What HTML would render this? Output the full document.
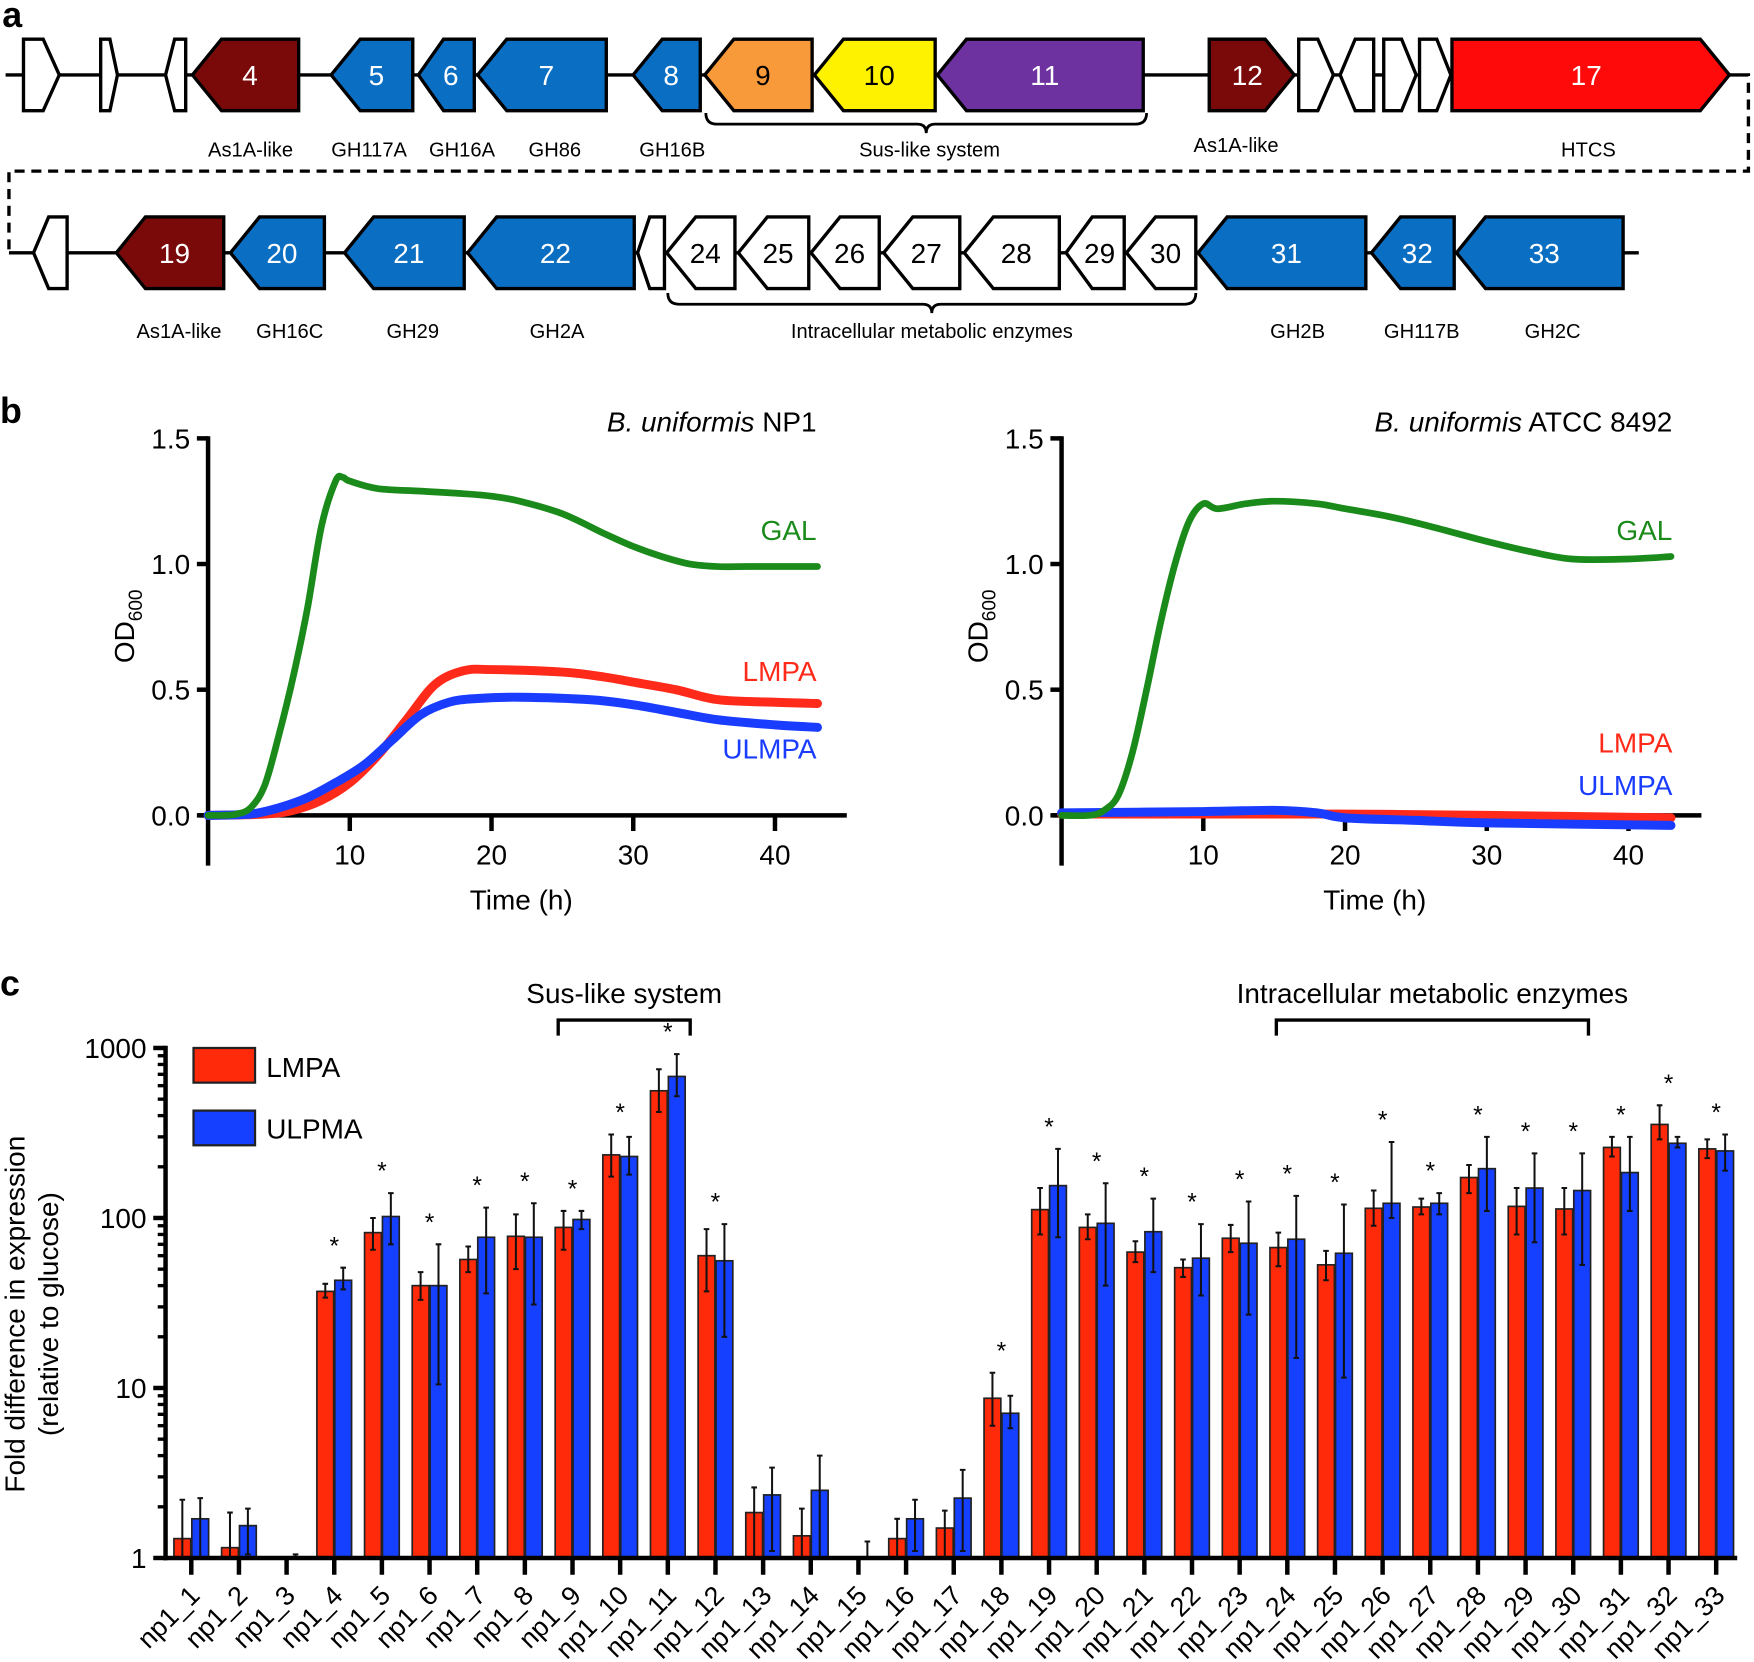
<!DOCTYPE html>
<html><head><meta charset="utf-8"><style>
html,body{margin:0;padding:0;background:#fff}
svg{display:block;font-family:"Liberation Sans",Arial,sans-serif}
</style></head><body>
<svg id="fig" width="1754" height="1662" viewBox="0 0 1568 1486" preserveAspectRatio="none" xmlns="http://www.w3.org/2000/svg">
<text x="2" y="24" font-size="32" font-weight="bold">a</text>
<text x="0" y="378" font-size="32" font-weight="bold">b</text>
<text x="0" y="890" font-size="32" font-weight="bold">c</text>
<g id="pa"></g>
<g id="pb"></g>
<g id="pc"></g>
</svg>
<script>
const NS='http://www.w3.org/2000/svg';
function mk(parent,tag,attrs,txt){const e=document.createElementNS(NS,tag);for(const k in attrs)e.setAttribute(k,attrs[k]);if(txt!==undefined)e.textContent=txt;parent.appendChild(e);return e;}

/* ---------- Panel a: gene map ---------- */
const row1Genes=[[21,53,'r','#fff',''],[90,105,'r','#fff',''],[148,166,'l','#fff',''],[172,267,'l','#7a0a0a','4'],[296,369,'l','#0a6fc2','5'],[374,424,'l','#0a6fc2','6'],[427,542,'l','#0a6fc2','7'],[566,626,'l','#0a6fc2','8'],[630,726,'l','#f99a3a','9'],[728,836,'l','#fff200','10'],[838,1022,'l','#6e31a0','11'],[1081,1157,'r','#7a0a0a','12'],[1161,1192,'r','#fff',''],[1198,1228,'l','#fff',''],[1237,1266,'r','#fff',''],[1269,1297,'r','#fff',''],[1298,1546,'r','#ff0a0a','17']];
const row2Genes=[[30,60,'l','#fff',''],[104,200,'l','#7a0a0a','19'],[206,290,'l','#0a6fc2','20'],[308,415,'l','#0a6fc2','21'],[418,567,'l','#0a6fc2','22'],[570,594,'l','#fff',''],[596,657,'l','#fff','24'],[660,723,'l','#fff','25'],[725,786,'l','#fff','26'],[790,858,'l','#fff','27'],[862,947,'l','#fff','28'],[953,1005,'l','#fff','29'],[1007,1069,'l','#fff','30'],[1071,1221,'l','#0a6fc2','31'],[1226,1300,'l','#0a6fc2','32'],[1302,1451,'l','#0a6fc2','33']];
const row1Labels=[['As1A-like',224,134],['GH117A',330,134],['GH16A',413,134],['GH86',496,134],['GH16B',601,134],['Sus-like system',831,134],['As1A-like',1105,130],['HTCS',1420,134]];
const row2Labels=[['As1A-like',160,296],['GH16C',259,296],['GH29',369,296],['GH2A',498,296],['Intracellular metabolic enzymes',833,296],['GH2B',1160,296],['GH117B',1271,296],['GH2C',1388,296]];
const pa=document.getElementById('pa');
function backbone(x1,x2,y){const l=mk(pa,'line',{x1:x1,x2:x2,y1:y,y2:y,stroke:'#000','stroke-width':3});

}
backbone(5,1555,67);backbone(8,1465,226);
const dash=mk(pa,'path',{d:'M1555 67 H1563 V153 H8 V226',fill:'none',stroke:'#000','stroke-width':3,'stroke-dasharray':'9 6'});


function genes(list,cy){list.forEach(g=>{const [x1,x2,dir,col,lab]=g;const t=cy-32,b=cy+32;const d=Math.min(26,(x2-x1)*0.45);
let pts=dir==='l'?`${x1},${cy} ${x1+d},${t} ${x2},${t} ${x2},${b} ${x1+d},${b}`:`${x1},${t} ${x2-d},${t} ${x2},${cy} ${x2-d},${b} ${x1},${b}`;
const p=mk(pa,'polygon',{points:pts,fill:col,stroke:'#000','stroke-width':3,'stroke-linejoin':'miter'});


if(lab){const cx=(x1+x2)/2+(dir==='l'?4:-4);const tc=(col==='#fff'||col==='#fff200'||col==='#f99a3a')?'#000':'#fff';
const tx=mk(pa,'text',{x:cx,y:cy+9,'font-size':25,'text-anchor':'middle',fill:tc},lab);

}});}
genes(row1Genes,67);genes(row2Genes,226);
function labels(list){list.forEach(l=>{const t=mk(pa,'text',{x:l[1],y:l[2]+6,'font-size':18,'text-anchor':'middle'},l[0]);

});}
labels(row1Labels);labels(row2Labels);
function brace(x1,x2,y){const m=(x1+x2)/2;const b=mk(pa,'path',{d:`M${x1} ${y} Q${x1} ${y+10} ${x1+10} ${y+10} H${m-8} Q${m} ${y+10} ${m} ${y+18} Q${m} ${y+10} ${m+8} ${y+10} H${x2-10} Q${x2} ${y+10} ${x2} ${y}`,fill:'none',stroke:'#000','stroke-width':2.5});

}
brace(631,1025,101);brace(597,1069,262);

/* ---------- Panel b: growth curves ---------- */
const np1GalT=[0,1,2,3,4,5,6,7,8,9,9.5,10,12,15,18,20,22,25,28,30,32,34,36,38,40,43];
const np1GalV=[0,0,0.005,0.03,0.12,0.32,0.55,0.82,1.15,1.33,1.345,1.33,1.3,1.29,1.28,1.27,1.25,1.2,1.12,1.07,1.03,1.0,0.99,0.99,0.99,0.99];
const np1LmpaT=[0,4,6,8,10,12,14,16,18,20,25,28,30,33,36,40,43];
const np1LmpaV=[0,0.005,0.02,0.06,0.13,0.24,0.38,0.52,0.575,0.58,0.57,0.55,0.53,0.5,0.46,0.45,0.445];
const np1UlmpaT=[0,3,5,7,9,11,13,15,17,19,22,27,30,33,36,40,43];
const np1UlmpaV=[0,0.005,0.03,0.07,0.13,0.2,0.3,0.4,0.45,0.465,0.47,0.46,0.44,0.41,0.38,0.36,0.35];
const atccGalT=[0,2,3,4,5,6,7,8,9,10,11,13,15,18,20,23,26,30,33,36,40,43];
const atccGalV=[0,0,0.02,0.08,0.25,0.5,0.77,1.0,1.17,1.24,1.22,1.24,1.25,1.24,1.22,1.19,1.15,1.09,1.05,1.02,1.02,1.03];
const atccLmpaT=[0,10,20,30,43];
const atccLmpaV=[0.005,0.005,0.005,0.0,-0.01];
const atccUlmpaT=[0,10,15,18,20,25,30,43];
const atccUlmpaV=[0.01,0.015,0.02,0.01,-0.01,-0.02,-0.03,-0.04];
const odTicks=['0.0','0.5','1.0','1.5'];
const timeTicks=['10','20','30','40'];
const pb=document.getElementById('pb');
function smoothPath(P){let d=`M${P[0][0]} ${P[0][1]}`;for(let i=0;i<P.length-1;i++){const p0=P[i-1]||P[i],p1=P[i],p2=P[i+1],p3=P[i+2]||p2;
const c1=[p1[0]+(p2[0]-p0[0])/6,p1[1]+(p2[1]-p0[1])/6],c2=[p2[0]-(p3[0]-p1[0])/6,p2[1]-(p3[1]-p1[1])/6];
d+=` C${c1[0]} ${c1[1]} ${c2[0]} ${c2[1]} ${p2[0]} ${p2[1]}`;}return d;}
function growth(x0,xEnd,title,series,lbls){
  const X=t=>x0+t*12.67, Y=v=>729-v*224.7;
  const ax=mk(pb,'line',{x1:x0,x2:x0,y1:390,y2:774,stroke:'#000','stroke-width':4});
  
  
  const xa=mk(pb,'line',{x1:x0-8,x2:xEnd,y1:729,y2:729,stroke:'#000','stroke-width':4});
  
  
  odTicks.forEach(s=>{const v=+s;mk(pb,'line',{x1:x0-10,x2:x0,y1:Y(v),y2:Y(v),stroke:'#000','stroke-width':4});
    const t=mk(pb,'text',{x:x0-16,y:Y(v)+9,'font-size':25,'text-anchor':'end'},s);
    
    });
  timeTicks.forEach(s=>{const v=+s;mk(pb,'line',{x1:X(v),x2:X(v),y1:729,y2:743,stroke:'#000','stroke-width':4});
    const t=mk(pb,'text',{x:X(v),y:773,'font-size':25,'text-anchor':'middle'},s);
    
    });
  const xt=mk(pb,'text',{x:x0+280,y:813,'font-size':25,'text-anchor':'middle'},'Time (h)');
  
  
  const yt=mk(pb,'text',{x:0,y:0,'font-size':25,'text-anchor':'middle',transform:`translate(${x0-66},560) rotate(-90)`});
  
  
  mk(yt,'tspan',{},'OD');mk(yt,'tspan',{'font-size':17,dy:7},'600');
  const tt=mk(pb,'text',{x:title[1],y:386,'font-size':25,'text-anchor':'end'});
  
  
  mk(tt,'tspan',{'font-style':'italic'},'B. uniformis');mk(tt,'tspan',{},' '+title[0]);
  series.forEach(s=>{const [T,V,col,dots,name]=s;
    const P=T.map((t,i)=>[X(t),Y(V[i])]);
    const pl=mk(pb,'path',{d:smoothPath(P),fill:'none',stroke:col,'stroke-width':dots?6:8,'stroke-linejoin':'round','stroke-linecap':'round'});
    
    });
  lbls.forEach(l=>{const t=mk(pb,'text',{x:title[1],y:l[1],'font-size':25,'text-anchor':'end',fill:l[2]},l[0]);
    
    });
}
growth(186,757,['NP1',730],[[np1LmpaT,np1LmpaV,'#ff2a1a',false,'lmpa'],[np1UlmpaT,np1UlmpaV,'#1a3cff',false,'ulmpa'],[np1GalT,np1GalV,'#1a8a1a',true,'gal']],[['GAL',483,'#1a8a1a'],['LMPA',609,'#ff2a1a'],['ULMPA',678,'#1a3cff']]);
growth(949,1521,['ATCC 8492',1495],[[atccLmpaT,atccLmpaV,'#ff2a1a',false,'lmpa'],[atccUlmpaT,atccUlmpaV,'#1a3cff',false,'ulmpa'],[atccGalT,atccGalV,'#1a8a1a',true,'gal']],[['GAL',483,'#1a8a1a'],['LMPA',673,'#ff2a1a'],['ULMPA',711,'#1a3cff']]);

/* ---------- Panel c: expression bars ---------- */
const genesC=['np1_1','np1_2','np1_3','np1_4','np1_5','np1_6','np1_7','np1_8','np1_9','np1_10','np1_11','np1_12','np1_13','np1_14','np1_15','np1_16','np1_17','np1_18','np1_19','np1_20','np1_21','np1_22','np1_23','np1_24','np1_25','np1_26','np1_27','np1_28','np1_29','np1_30','np1_31','np1_32','np1_33'];
const lmpaVals=[1.3,1.15,null,37,82,40,57,78,88,235,560,60,1.85,1.35,null,1.3,1.5,8.7,112,88,63,51,76,67,53,114,116,173,117,113,260,355,255];
const lmpaHi=[2.2,1.85,null,41,100,48,68,105,110,310,750,86,2.6,1.95,null,1.7,1.9,12.3,150,105,73,57,91,82,64,145,130,205,150,150,300,460,290];
const lmpaLo=[1.0,1.0,null,34,65,33,48,50,65,175,420,37,1.0,1.0,null,1.0,1.0,6.0,80,75,55,45,63,52,43,90,105,140,80,80,230,290,225];
const ulpmaVals=[1.7,1.55,null,43,102,40,77,77,98,230,680,56,2.35,2.5,null,1.7,2.25,7.1,155,93,83,58,71,75,62,122,122,195,150,145,185,275,248];
const ulpmaHi=[2.25,1.95,1.05,51,140,70,115,122,110,300,920,92,3.4,4.0,1.25,2.2,3.3,9.0,255,160,130,92,125,135,120,280,140,300,240,240,300,300,310];
const ulpmaLo=[1.0,1.05,1.0,38,70,10.5,36,31,86,180,520,20,1.1,1.0,1.0,1.1,1.1,5.8,77,40,48,35,27,15,11.5,100,105,110,72,53,110,260,190];
const significant=[0,0,0,1,1,1,1,1,1,1,1,1,0,0,0,0,0,1,1,1,1,1,1,1,1,1,1,1,1,1,1,1,1];
const decadeTicks=['1','10','100','1000'];
const pc=document.getElementById('pc');
const X0=171, DX=42.6, AXB=1393, PERDEC=152;
const xc=i=>X0+i*DX;
const yv=v=>AXB-Math.log10(v)*PERDEC;
genesC.forEach((g,i)=>{
  [[lmpaVals,lmpaHi,lmpaLo,'#ff2a0a',-15.5,'lmpa'],[ulpmaVals,ulpmaHi,ulpmaLo,'#1540ff',0.5,'ulpma']].forEach(s=>{
    const [V,H,L,col,off,nm]=s;const v=V[i];const cx=xc(i)+off+7.5;
    if(v!==null){const r=mk(pc,'rect',{x:xc(i)+off,y:yv(v),width:15,height:AXB-yv(v),fill:col,stroke:'#222','stroke-width':1.5});
      
      }
    if(H[i]!==null){const e=mk(pc,'path',{d:`M${cx} ${yv(L[i])} V${yv(H[i])} M${cx-2.5} ${yv(H[i])} H${cx+2.5} M${cx-2.5} ${yv(L[i])} H${cx+2.5}`,stroke:'#111','stroke-width':1.8,fill:'none'});
      
      }
  });
  if(significant[i]){const top=Math.max(lmpaHi[i]||1,ulpmaHi[i]||1);
    const s=mk(pc,'text',{x:xc(i),y:yv(top)-12,'font-size':22,'text-anchor':'middle'},'*');
    
    }
  mk(pc,'line',{x1:xc(i),x2:xc(i),y1:AXB,y2:1408,stroke:'#000','stroke-width':4});
  const t=mk(pc,'text',{x:0,y:0,'font-size':24,'text-anchor':'end',transform:`translate(${xc(i)+9},${1428}) rotate(-45)`},g);
  
  
});
const yax=mk(pc,'line',{x1:148,x2:148,y1:935,y2:1395,stroke:'#000','stroke-width':4});


const xax=mk(pc,'line',{x1:146,x2:1553,y1:AXB,y2:AXB,stroke:'#000','stroke-width':4});


decadeTicks.forEach((s,k)=>{const v=+s;mk(pc,'line',{x1:137,x2:148,y1:yv(v),y2:yv(v),stroke:'#000','stroke-width':4});
  const t=mk(pc,'text',{x:131,y:yv(v)+9,'font-size':25,'text-anchor':'end'},s);
  
  
  if(k<3)for(let m=2;m<10;m++)mk(pc,'line',{x1:141,x2:148,y1:yv(v*m),y2:yv(v*m),stroke:'#000','stroke-width':3});});
const yt1=mk(pc,'text',{x:0,y:0,'font-size':25,'text-anchor':'middle',transform:'translate(22,1175) rotate(-90)'},'Fold difference in expression');


const yt2=mk(pc,'text',{x:0,y:0,'font-size':25,'text-anchor':'middle',transform:'translate(52,1175) rotate(-90)'},'(relative to glucose)');


[['LMPA','#ff2a0a',937,963],['ULPMA','#1540ff',993,1018]].forEach(l=>{
  const r=mk(pc,'rect',{x:173,y:l[2],width:55,height:31,fill:l[1],stroke:'#222','stroke-width':2});
  
  
  const t=mk(pc,'text',{x:238,y:l[3],'font-size':25},l[0]);
  
  });
[['Sus-like system',499,617],['Intracellular metabolic enzymes',1141,1420]].forEach(b=>{
  const p=mk(pc,'path',{d:`M${b[1]} 926 V912 H${b[2]} V926`,fill:'none',stroke:'#000','stroke-width':3});
  
  
  const t=mk(pc,'text',{x:(b[1]+b[2])/2,y:897,'font-size':25,'text-anchor':'middle'},b[0]);
  
  });
</script>
</body></html>
